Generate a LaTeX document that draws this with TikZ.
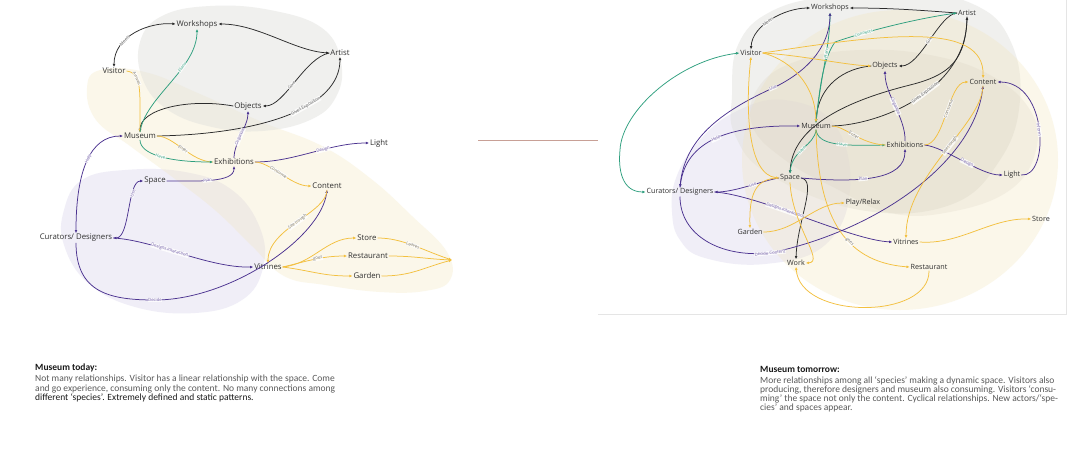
\documentclass[tikz,border=0pt]{standalone}
\usepackage{fontspec}
\setmainfont{Open Sans}
\newfontfamily\txtfont[Ligatures=TeX]{Carlito}
\usetikzlibrary{arrows.meta}
\definecolor{cy}{HTML}{F3C03F}
\definecolor{cp}{HTML}{4B3290}
\definecolor{cg}{HTML}{2E9F7E}
\definecolor{cd}{HTML}{2B2B2B}
\definecolor{ctxt}{HTML}{303030}
\definecolor{bgrey}{HTML}{E2E2DE}
\definecolor{bbeige}{HTML}{F2E6BC}
\definecolor{blav}{HTML}{DAD5EC}
\definecolor{bdark}{HTML}{D2C8B6}
\definecolor{sepc}{RGB}{200,160,150}
\begin{document}
\begin{tikzpicture}[x=1pt,y=-1pt,
  nd/.style={font=\fontsize{7.8}{9}\selectfont, text=ctxt, inner sep=0.8pt},
  ndr/.style={font=\fontsize{7.2}{8}\selectfont, text=ctxt, inner sep=0.8pt},
  ed/.style={line width=0.75pt},
  dk/.style={ed, draw=cd},
  yl/.style={ed, draw=cy},
  pu/.style={ed, draw=cp},
  gr/.style={ed, draw=cg},
  lbl/.style={font=\fontsize{4.3}{4.3}\selectfont, fill=white, fill opacity=.8, text opacity=1, inner sep=0.4pt, sloped},
  ldk/.style={lbl, text=black!60},
  lyl/.style={lbl, text=black!55},
  lpu/.style={lbl, text=cp!70},
  lgr/.style={lbl, text=cg!85},
  arr/.style={-{Latex[length=3.2pt,width=2.8pt]}},
  barr/.style={{Latex[length=3.2pt,width=2.8pt]}-{Latex[length=3.2pt,width=2.8pt]}},
  sepline/.style={draw=sepc, line width=0.6pt},
  rframe/.style={draw=black!10, line width=0.6pt},
  body/.style={font=\txtfont\fontsize{9.5}{9}\selectfont, text=black!65, anchor=base west, inner sep=0pt},
  head/.style={font=\txtfont\bfseries\fontsize{9.5}{9}\selectfont, text=black!90, anchor=base west, inner sep=0pt}
]
\useasboundingbox (0,0) rectangle (1075,453);
\fill[white] (0,0) rectangle (1075,453);

% ---------- left blobs
\fill[blav, opacity=.4] plot[smooth cycle, tension=.7] coordinates {(64,210) (82,180) (125,170) (185,172) (232,190) (260,228) (263,268) (242,300) (195,313) (135,307) (88,283) (64,245)};
\fill[bbeige, opacity=.3] plot[smooth cycle, tension=.7] coordinates {(87,88) (100,70) (145,72) (200,94) (262,122) (322,146) (370,178) (412,216) (447,252) (450,280) (425,291) (380,292) (325,285) (284,276) (252,246) (216,211) (175,179) (130,146) (96,120)};
\fill[bgrey, opacity=.5] plot[smooth cycle, tension=.7] coordinates {(140,42) (162,16) (210,6) (270,10) (322,28) (341,62) (336,97) (310,120) (262,131) (212,127) (168,110) (143,80)};

% ---------- right blobs
\fill[blav, opacity=.4] plot[smooth cycle, tension=.7] coordinates {(672,212) (676,178) (698,142) (735,112) (785,100) (835,125) (850,190) (825,245) (765,264) (705,258) (680,240)};
\fill[bgrey, opacity=.5] plot[smooth cycle, tension=.7] coordinates {(732,95) (738,45) (770,12) (830,-4) (910,-8) (975,5) (1010,40) (1020,100) (1000,160) (950,205) (860,210) (770,175) (735,135)};
\fill[bbeige, opacity=.3] (900,160) ellipse [x radius=158pt, y radius=150pt];
\fill[bdark, opacity=.18] plot[smooth cycle, tension=.7] coordinates {(760,85) (800,60) (860,50) (930,55) (990,75) (1030,110) (1036,150) (1010,190) (950,212) (890,213) (835,188) (785,160) (752,125)};

% ---------- separator and frame
\coordinate (S1) at (478,140);
\coordinate (S2) at (598,140);
\draw[sepline] (S1) -- (S2);
\coordinate (F1) at (598,314);
\coordinate (F2) at (1066,314);
\coordinate (F3) at (1066,0);
\draw[rframe] (F1) -- (F2) -- (F3);

% ---------- left nodes
\node[nd] (LW) at (197,24) {Workshops};
\node[nd] (LA) at (340,53) {Artist};
\node[nd] (LV) at (114,71) {Visitor};
\node[nd] (LO) at (248,106) {Objects};
\node[nd] (LM) at (140,136) {Museum};
\node[nd] (LL) at (379,143) {Light};
\node[nd] (LE) at (234,162) {Exhibitions};
\node[nd] (LS) at (155,181) {Space};
\node[nd] (LC) at (327,186) {Content};
\node[nd] (LCD) at (76,238) {Curators/ Designers};
\node[nd] (LVi) at (268,267) {Vitrines};
\node[nd] (LSt) at (367,238) {Store};
\node[nd] (LR) at (368,256) {Restaurant};
\node[nd] (LG) at (367,276) {Garden};
\coordinate (LX) at (452,260);

% ---------- left edges
\draw[dk,barr] (LV.north) .. controls +(0,-31) and +(-27,-2) .. node[ldk,pos=.35]{Meets} (LW.west);
\draw[dk,barr] (LA.west) .. controls +(-35,-2) and +(40,0) .. (LW.east);
\draw[dk,arr] (LA.west) .. controls +(-25,5) and +(22,0) .. node[ldk,pos=.55]{Give} (LO.east);
\draw[dk,arr] (LM.east) .. controls +(105,-2) and +(0,51) .. node[ldk,pos=.6]{Gives Exposition} (LA.south);
\draw[dk,arr] (LO.west) .. controls +(-45,-8) and +(0,-23) .. (LM.north);
\draw[yl,arr] (LV.east) .. controls +(15,2) and +(0,-45) .. node[lyl,pos=.35]{Arrives} (LM.north);
\draw[gr,arr] (LM.north) .. controls +(5,-35) and +(0,40) .. node[lgr,pos=.65]{Plans} (LW.south);
\draw[yl] (LM.east) .. controls +(17,0) and +(-22,0) .. node[lyl,pos=.5]{Enter} (LE.west);
\draw[gr,arr] (LM.south) .. controls +(0,15) and +(-43,0) .. node[lgr,pos=.5]{Have} (LE.west);
\draw[pu,arr] (LE.east) .. controls +(40,0) and +(-40,0) .. node[lpu,pos=.6]{Design} (LL.west);
\draw[pu,arr] (LE.north) .. controls +(0,-15) and +(0,15) .. node[lpu,pos=.45]{Organize} (LO.south);
\draw[pu,barr] (LM.west) .. controls +(-33,0) and +(0,-62) .. node[lpu,pos=.47]{Help} (LCD.north);
\draw[pu,barr] (LS.west) .. controls +(-16,0) and +(17,0) .. node[lpu,pos=.3]{Use} (LCD.east);
\draw[pu,arr] (LS.east) .. controls +(30,0) and +(0,17) .. node[lpu,pos=.45]{Plan} (LE.south);
\draw[pu,arr] (LCD.east) .. controls +(40,2) and +(-45,1) .. node[lpu,pos=.42]{Designs interaction} (LVi.west);
\draw[pu,arr] (LCD.south) .. controls +(0,50) and +(-45,0) .. node[lpu,pos=1]{Decide} (155,300) .. controls +(75,0) and +(-6,48) .. (LC.south);
\draw[yl,arr] (LE.east) .. controls +(15,0) and +(-20,0) .. node[lyl,pos=.45]{Consume} (LC.west);
\draw[yl,arr] (LC.south) .. controls +(0,23) and +(0,-35) .. node[lyl,pos=.5]{See trough} (LVi.north);
\draw[yl,arr] (LVi.east) .. controls +(30,-3) and +(-30,0) .. (LSt.west);
\draw[yl,arr] (LVi.east) .. controls +(25,-6) and +(-25,0) .. node[lyl,pos=.55]{goes} (LR.west);
\draw[yl,arr] (LVi.east) .. controls +(30,4) and +(-30,0) .. (LG.west);
\draw[yl,arr] (LSt.east) .. controls +(25,0) and +(-30,-10) .. node[lyl,pos=.5]{Leaves} (LX);
\draw[yl,arr] (LR.east) .. controls +(25,0) and +(-25,-1) .. (LX);
\draw[yl,arr] (LG.east) .. controls +(30,0) and +(-30,8) .. (LX);

% ---------- right nodes
\node[ndr] (RW) at (830,8) {Workshops};
\node[ndr] (RA) at (967,13) {Artist};
\node[ndr] (RV) at (751,53) {Visitor};
\node[ndr] (RO) at (885,66) {Objects};
\node[ndr] (RC) at (983,82) {Content};
\node[ndr] (RM) at (816,126) {Museum};
\node[ndr] (RE) at (905,145) {Exhibitions};
\node[ndr] (RL) at (1012,175) {Light};
\node[ndr] (RCD) at (680,192) {Curators/ Designers};
\node[ndr] (RS) at (790,178) {Space};
\node[ndr] (RP) at (863,203) {Play/Relax};
\node[ndr] (RG) at (750,232) {Garden};
\node[ndr] (RVi) at (906,242) {Vitrines};
\node[ndr] (RSt) at (1041,219) {Store};
\node[ndr] (RWk) at (796,263) {Work};
\node[ndr] (RR) at (929,267) {Restaurant};

% ---------- right edges: dark
\draw[dk,barr] (RV.north) .. controls (752,25) and (785,8) .. node[ldk,pos=.45]{Meets} (RW.west);
\draw[dk,arr] (RA.west) .. controls +(-40,-3) and +(40,0) .. (RW.east);
\draw[dk,arr] (RA.west) .. controls +(-18,1) and +(22,0) .. node[ldk,pos=.5]{Give} (RO.east);
\draw[dk,arr] (RM.east) .. controls (880,125) and (966,90) .. node[ldk,pos=.55]{Gives Exposition} (RA.south);
\draw[dk,arr] (RA.south) .. controls (966,60) and (950,75) .. (910,85) .. controls (850,100) and (792,125) .. (RS.north);
\draw[dk,arr] (RO.west) .. controls (845,68) and (818,85) .. (RM.north);
\draw[dk,arr] (RS.east) .. controls (818,180) and (797,222) .. (RWk.north);
% green
\draw[gr,arr] (RM.north) .. controls (819,95) and (822,60) .. (835,42) .. controls (870,30) and (920,18) .. node[lgr,pos=.25]{Connects} (RA.west);
\draw[gr,arr] (RM.north) .. controls (820,80) and (830,45) .. node[lgr,pos=.6]{Plans} (RW.south);
\draw[gr,arr] (RM.south) .. controls (815,145) and (792,150) .. node[lgr,pos=.55]{Have} (RS.north);
\draw[gr,arr] (RM.south) .. controls (818,145) and (840,146) .. node[lgr,pos=.6]{Have} (RE.west);
\draw[gr,barr] (RCD.west) .. controls (622,192) and (618,170) .. (620,150) .. controls (622,110) and (680,60) .. (RV.west);
% purple
\draw[pu,arr] (RCD.north) .. controls (683,140) and (720,112) .. node[lpu,pos=1]{Use} (773,88) .. controls (815,68) and (830,40) .. (RW.south);
\draw[pu,barr] (RCD.north) .. controls (686,140) and (730,125) .. node[lpu,pos=.5]{Help} (RM.west);
\draw[pu,arr] (RS.west) .. controls (765,180) and (735,192) .. node[lpu,pos=.45]{Use} (RCD.east);
\draw[pu,arr] (RCD.east) .. controls (760,195) and (850,240) .. node[lpu,pos=.4]{Designs interaction} (RVi.west);
\draw[pu,arr] (RCD.south) .. controls (680,235) and (720,258) .. node[lpu,pos=1]{Decide Content} (770,253) .. controls (880,230) and (975,160) .. (RC.south);
\draw[pu,arr] (RE.north) .. controls (906,118) and (885,95) .. node[lpu,pos=.5]{Organize} (RO.south);
\draw[pu,arr] (RS.east) .. controls (860,183) and (905,180) .. node[lpu,pos=.4]{Plan} (RE.south);
\draw[pu,arr] (RE.east) .. controls (945,147) and (980,175) .. node[lpu,pos=.55]{Design} (RL.west);
\draw[pu,arr] (RL.east) .. controls (1050,178) and (1048,82) .. node[lpu,pos=.5]{Inform} (RC.east);
% yellow
\draw[yl,barr] (RV.south) .. controls (745,110) and (748,175) .. (RS.west);
\draw[yl,arr] (RV.east) .. controls (880,35) and (985,20) .. (RC.north);
\draw[yl,arr] (RV.east) .. controls (800,55) and (845,65) .. (RO.west);
\draw[yl,arr] (RV.east) .. controls (785,58) and (815,80) .. (RM.north);
\draw[yl] (RM.east) .. controls (845,126) and (860,144) .. node[lyl,pos=.5]{Enter} (RE.west);
\draw[yl,arr] (RM.south) .. controls (818,210) and (840,262) .. node[lyl,pos=.62]{goes} (RR.west);
\draw[yl,arr] (RS.south) .. controls (792,225) and (825,262) .. (RWk.east);
\draw[yl,arr] (RS.west) .. controls (755,178) and (749,195) .. (RG.north);
\draw[yl,arr] (RG.east) .. controls (795,232) and (815,203) .. (RP.west);
\draw[yl,arr] (RE.east) .. controls (945,145) and (948,82) .. node[lyl,pos=.55]{Consume} (RC.west);
\draw[yl,arr] (RC.south) .. controls (982,125) and (906,175) .. node[lyl,pos=.45]{See trough} (RVi.north);
\draw[yl,arr] (RVi.east) .. controls (960,245) and (990,218) .. (RSt.west);
\draw[yl,arr] (RR.south) .. controls (930,320) and (800,320) .. (RWk.south);

% ---------- texts
\node[head] (T1) at (35,370.5) {Museum today:};
\node[body] (T1a) at (35,381.5) {Not many relationships. Visitor has a linear relationship with the space. Come};
\node[body] (T1b) at (35,391) {and go experience, consuming only the content. No many connections among};
\node[body, text=black!90] (T1c) at (35,400.5) {different ‘species’. Extremely defined and static patterns.};

\node[head] (T2) at (760,372.5) {Museum tomorrow:};
\node[body] (T2a) at (760,383.5) {More relationships among all ‘species’ making a dynamic space. Visitors also};
\node[body] (T2b) at (760,392.5) {producing, therefore designers and museum also consuming. Visitors ‘consu-};
\node[body] (T2c) at (760,401.5) {ming’ the space not only the content. Cyclical relationships. New actors/‘spe-};
\node[body] (T2d) at (760,410.5) {cies’ and spaces appear.};
\end{tikzpicture}
\end{document}
